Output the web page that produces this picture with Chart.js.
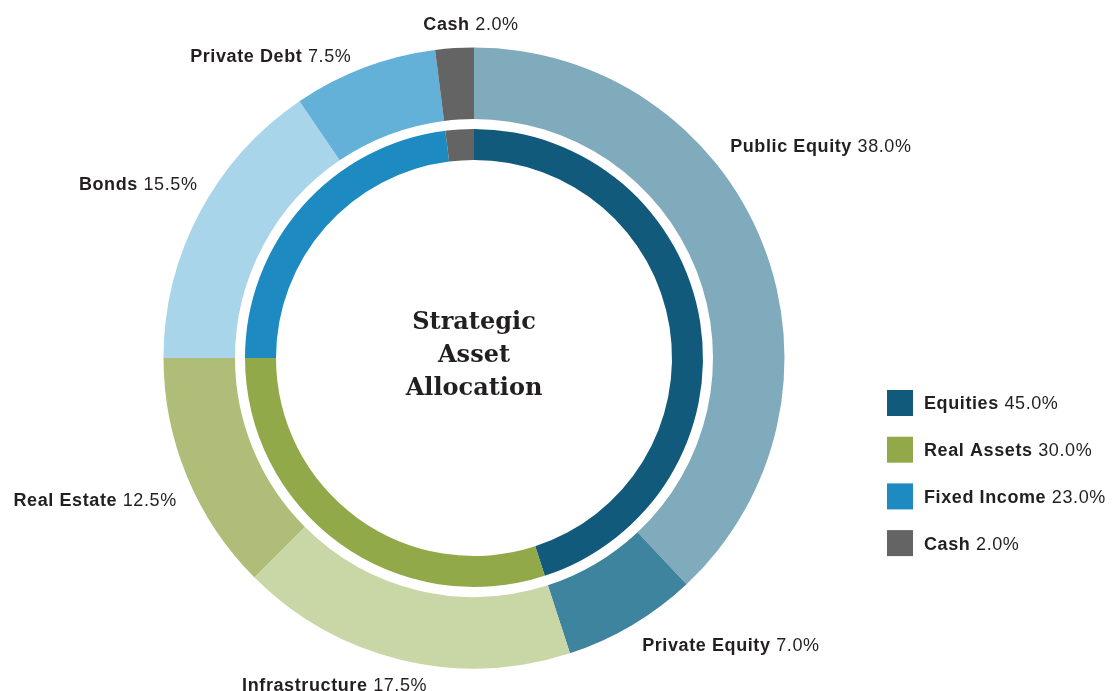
<!DOCTYPE html>
<html>
<head>
<meta charset="utf-8">
<script src="https://cdn.jsdelivr.net/npm/chart.js@4"></script>
<style>
html,body{margin:0;padding:0;background:#fff;}
#wrap{position:relative;width:1113px;height:691px;}
</style>
</head>
<body>
<div id="wrap"><canvas id="c" width="1113" height="691"></canvas></div>
<script>
// ---- data ----
const outerLabels = ['Public Equity', 'Private Equity', 'Infrastructure', 'Real Estate', 'Bonds', 'Private Debt', 'Cash'];
const outerValues = [38.0, 7.0, 17.5, 12.5, 15.5, 7.5, 2.0];
const innerLabels = ['Equities', 'Real Assets', 'Fixed Income', 'Cash'];
const innerValues = [45.0, 30.0, 23.0, 2.0];
const centerTitle = ['Strategic', 'Asset', 'Allocation'];

// ---- styles ----
const outerColors = ['#80abbd', '#3f849f', '#c9d6a6', '#afbd79', '#a8d5ea', '#63b1d8', '#636463'];
const innerColors = ['#115a7c', '#92a94a', '#1d8ac2', '#636463'];
const textColor = '#231f20';
const labelFont = '"Liberation Sans", Arial, Helvetica, sans-serif';
const labelSize = 18;
// label placement relative to each outer arc's midpoint
const labelAlign = ['left', 'left', 'center', 'right', 'right', 'right', 'center'];
const labelShift = [[-40, -95], [6, 12], [-65, 17], [-3, 20], [5, -25], [-10, -4.5], [17, -17]];

function drawPair(ctx, boldTxt, regTxt, x, yc, align) {
  ctx.save();
  ctx.letterSpacing = '0.6px';
  ctx.fillStyle = textColor;
  ctx.textBaseline = 'alphabetic';
  ctx.textAlign = 'left';
  const bf = 'bold ' + labelSize + 'px ' + labelFont;
  const rf = labelSize + 'px ' + labelFont;
  ctx.font = bf; const wb = ctx.measureText(boldTxt).width;
  ctx.font = rf; const wr = ctx.measureText(' ' + regTxt).width;
  const tot = wb + wr;
  let sx = x;
  if (align === 'right') sx = x - tot;
  else if (align === 'center') sx = x - tot / 2;
  const yb = yc + labelSize * 0.36;
  ctx.font = bf; ctx.fillText(boldTxt, sx, yb);
  ctx.font = rf; ctx.fillText(' ' + regTxt, sx + wb, yb);
  ctx.restore();
}

const annotate = {
  id: 'annotate',
  afterDraw(chart) {
    const ctx = chart.ctx;
    const meta = chart.getDatasetMeta(0);
    meta.data.forEach((arc, i) => {
      const p = arc.getProps(['x', 'y', 'startAngle', 'endAngle', 'outerRadius'], true);
      const mid = (p.startAngle + p.endAngle) / 2;
      const r = p.outerRadius + 8;
      const ax = p.x + Math.cos(mid) * r + labelShift[i][0];
      const ay = p.y + Math.sin(mid) * r + labelShift[i][1];
      drawPair(ctx, outerLabels[i], outerValues[i].toFixed(1) + '%', ax, ay, labelAlign[i]);
    });
    // center title
    const a0 = meta.data[0];
    const cx = a0.x, cy = a0.y;
    ctx.save();
    ctx.fillStyle = textColor;
    ctx.font = 'bold 24px "DejaVu Serif", serif';
    ctx.textAlign = 'center';
    ctx.textBaseline = 'alphabetic';
    centerTitle.forEach((t, i) => {
      const yc = cy - 5.5 + (i - 1) * 33;
      ctx.fillText(t, cx, yc + 9);
    });
    ctx.restore();
    // legend
    const area = chart.chartArea;
    const lx = area.right + 102.5;
    const ly0 = 403, step = 46.7, box = 26;
    innerLabels.forEach((lab, i) => {
      const yc = ly0 + i * step;
      ctx.save();
      ctx.fillStyle = innerColors[i];
      ctx.fillRect(lx, yc - box / 2, box, box);
      ctx.restore();
      drawPair(ctx, lab, innerValues[i].toFixed(1) + '%', lx + box + 11, yc, 'left');
    });
  }
};

new Chart(document.getElementById('c'), {
  type: 'doughnut',
  data: {
    labels: outerLabels,
    datasets: [
      { data: outerValues, backgroundColor: outerColors, weight: 71.5, borderWidth: 0, hoverOffset: 0, offset: 0 },
      { data: [1], backgroundColor: ['rgba(0,0,0,0)'], weight: 10, borderWidth: 0, hoverOffset: 0, offset: 0 },
      { data: innerValues, backgroundColor: innerColors, weight: 31, borderWidth: 0, hoverOffset: 0, offset: 0 }
    ]
  },
  options: {
    responsive: false,
    animation: false,
    cutout: 198,
    layout: { padding: { left: 163.5, right: 328.5, top: 47.5, bottom: 22.5 } },
    plugins: { legend: { display: false }, tooltip: { enabled: false } },
    events: []
  },
  plugins: [annotate]
});
</script>
</body>
</html>
